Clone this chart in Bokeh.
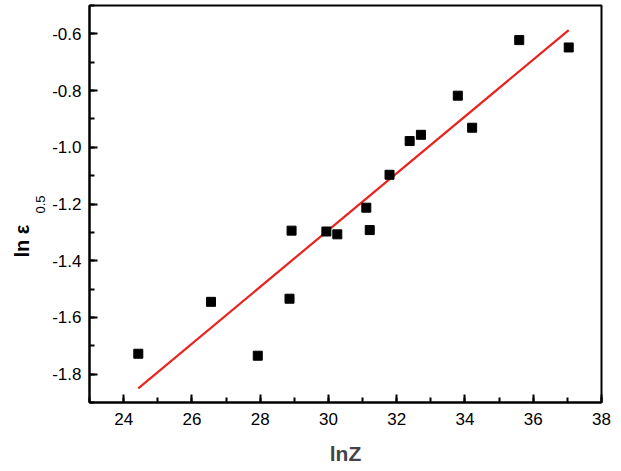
import numpy as np
from bokeh.plotting import figure
from bokeh.models import FixedTicker, Title, Range1d, PrintfTickFormatter
from bokeh.embed import file_html
from bokeh.resources import INLINE

# data
lnZ = [24.43, 26.56, 27.93, 28.92, 28.86, 29.94, 30.26, 31.11, 31.21,
       31.79, 32.38, 32.71, 33.79, 34.21, 35.59, 37.04]
ln_eps = [-1.728, -1.545, -1.735, -1.294, -1.534, -1.297, -1.307, -1.213, -1.292,
          -1.097, -0.978, -0.956, -0.818, -0.931, -0.622, -0.648]
x_ticks = [24, 26, 28, 30, 32, 34, 36, 38]
y_ticks = [-1.8, -1.6, -1.4, -1.2, -1.0, -0.8, -0.6]

FONT = "Liberation Sans"

p = figure(width=621, height=471, output_backend="svg", toolbar_location=None,
           x_range=Range1d(23, 38), y_range=Range1d(-1.9, -0.5))
p.min_border_left = 89
p.min_border_right = 20
p.min_border_top = 5
p.min_border_bottom = 69
p.background_fill_color = "white"
p.border_fill_color = "white"
p.outline_line_color = "black"
p.outline_line_width = 2
p.xgrid.visible = False
p.ygrid.visible = False

for ax in (p.xaxis[0], p.yaxis[0]):
    ax.axis_line_width = 2
    ax.axis_line_color = "black"
    ax.major_tick_line_width = 2
    ax.minor_tick_line_width = 2
    ax.major_tick_in = 8
    ax.major_tick_out = 0
    ax.minor_tick_in = 5
    ax.minor_tick_out = 0
    ax.major_label_text_font = FONT
    ax.major_label_text_font_size = "17px"
    ax.major_label_text_color = "black"

p.xaxis.ticker = FixedTicker(ticks=x_ticks, minor_ticks=list(np.arange(23, 38.01, 1.0)))
p.yaxis.ticker = FixedTicker(ticks=y_ticks, minor_ticks=[round(v, 2) for v in np.arange(-1.9, -0.49, 0.1)])
p.yaxis.formatter = PrintfTickFormatter(format="%.1f")
p.xaxis.major_label_standoff = 10
p.yaxis.major_label_standoff = 8

p.xaxis.axis_label = "lnZ"
p.xaxis.axis_label_text_font = FONT
p.xaxis.axis_label_text_font_style = "bold"
p.xaxis.axis_label_text_font_size = "21px"
p.xaxis.axis_label_standoff = 14

# linear fit
slope, intercept = np.polyfit(lnZ, ln_eps, 1)
fx = np.array([min(lnZ), max(lnZ)])
p.line(fx, slope * fx + intercept, line_color="#e8231e", line_width=2.2)

p.scatter(lnZ, ln_eps, marker="square", size=9, fill_color="black", line_color="black")

# y axis label "ln ε" with subscript "0.5", as two stacked titles on the left
sub = Title(text="0.5", align="left", offset=189, standoff=6, vertical_align="top",
            text_font=FONT, text_font_style="normal", text_font_size="13px",
            text_color="black")
main = Title(text="ln ε", align="left", offset=145, standoff=0, vertical_align="bottom",
             text_font=FONT, text_font_style="bold", text_font_size="20px",
             text_color="black")
p.add_layout(sub, "left")
p.add_layout(main, "left")

open("out.html", "w").write(file_html(p, INLINE))
